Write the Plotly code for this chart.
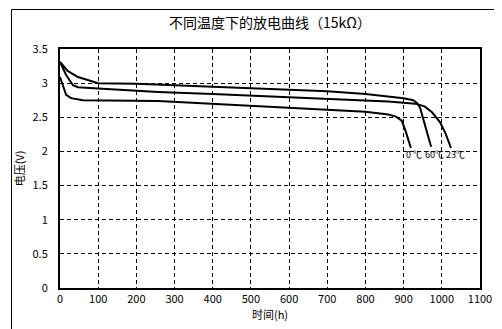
import plotly.graph_objects as go

title_text = "不同温度下的放电曲线（15kΩ）"
x_ticks = [0, 100, 200, 300, 400, 500, 600, 700, 800, 900, 1000, 1100]
y_ticks = [0, 0.5, 1, 1.5, 2, 2.5, 3, 3.5]
y_tick_labels = ["0", "0.5", "1", "1.5", "2", "2.5", "3", "3.5"]

t_60 = [0, 20, 47, 80, 100, 200, 300, 400, 500, 600, 700, 800, 860, 900, 925, 935, 943, 955, 972]
v_60 = [3.31, 3.18, 3.09, 3.03, 3.00, 2.99, 2.97, 2.95, 2.93, 2.91, 2.88, 2.84, 2.81, 2.78, 2.75, 2.71, 2.64, 2.40, 2.07]

t_23 = [0, 16, 34, 47, 100, 257, 400, 571, 700, 800, 860, 930, 955, 975, 995, 1010, 1024]
v_23 = [3.31, 3.12, 2.97, 2.94, 2.92, 2.87, 2.84, 2.80, 2.77, 2.75, 2.73, 2.70, 2.66, 2.57, 2.43, 2.26, 2.05]

t_0 = [0, 8, 16, 29, 60, 257, 400, 571, 700, 800, 860, 880, 895, 905, 919]
v_0 = [3.09, 2.97, 2.83, 2.78, 2.75, 2.74, 2.70, 2.65, 2.61, 2.58, 2.54, 2.51, 2.45, 2.30, 2.05]

labels = ["0 ℃", "60℃", "23℃"]
label_x = [904, 953, 1008]
label_y = [1.95, 1.95, 1.95]

font = "Noto Sans CJK SC, sans-serif"

fig = go.Figure()
for t, v in [(t_60, v_60), (t_23, v_23), (t_0, v_0)]:
    fig.add_trace(go.Scatter(x=t, y=v, mode="lines",
                             line=dict(color="black", width=2), showlegend=False))

for txt, lx, ly in zip(labels, label_x, label_y):
    fig.add_annotation(x=lx, y=ly, text=txt, showarrow=False, xanchor="left",
                       yanchor="middle", borderpad=0,
                       font=dict(family=font, size=9, color="black"))

fig.update_layout(
    width=502, height=329,
    margin=dict(l=52, r=30, t=41, b=49),
    paper_bgcolor="white", plot_bgcolor="white",
    title=dict(text=title_text, x=0.5, xref="paper", xanchor="center",
               y=1 - 15 / 329, yref="container", yanchor="middle",
               font=dict(family=font, size=14, color="black")),
    xaxis=dict(range=[0, 1100], tickvals=x_ticks, ticks="", showgrid=True,
               gridcolor="black", gridwidth=1, griddash="4px,3px",
               showline=True, linecolor="black", linewidth=2, mirror=True,
               zeroline=False,
               tickfont=dict(family=font, size=11, color="black"),
               title=dict(text="时间(h)", standoff=4,
                          font=dict(family=font, size=11, color="black"))),
    yaxis=dict(range=[0, 3.5], tickvals=y_ticks, ticktext=y_tick_labels, ticks="",
               showgrid=True, gridcolor="black", gridwidth=1, griddash="4px,3px",
               showline=True, linecolor="black", linewidth=2, mirror=True,
               zeroline=False, ticklabelstandoff=8,
               tickfont=dict(family=font, size=11, color="black"),
               title=dict(text="电压(V)", standoff=6,
                          font=dict(family=font, size=11, color="black"))),
)

# outer frame around the whole picture
fig.add_shape(type="rect", xref="paper", yref="paper",
              x0=(3.5 - 52) / 420, x1=(498 - 52) / 420,
              y0=(280 - 324) / 239, y1=(280 - 1.5) / 239,
              line=dict(color="black", width=1), fillcolor="rgba(0,0,0,0)")

fig.write_html("out.html")
